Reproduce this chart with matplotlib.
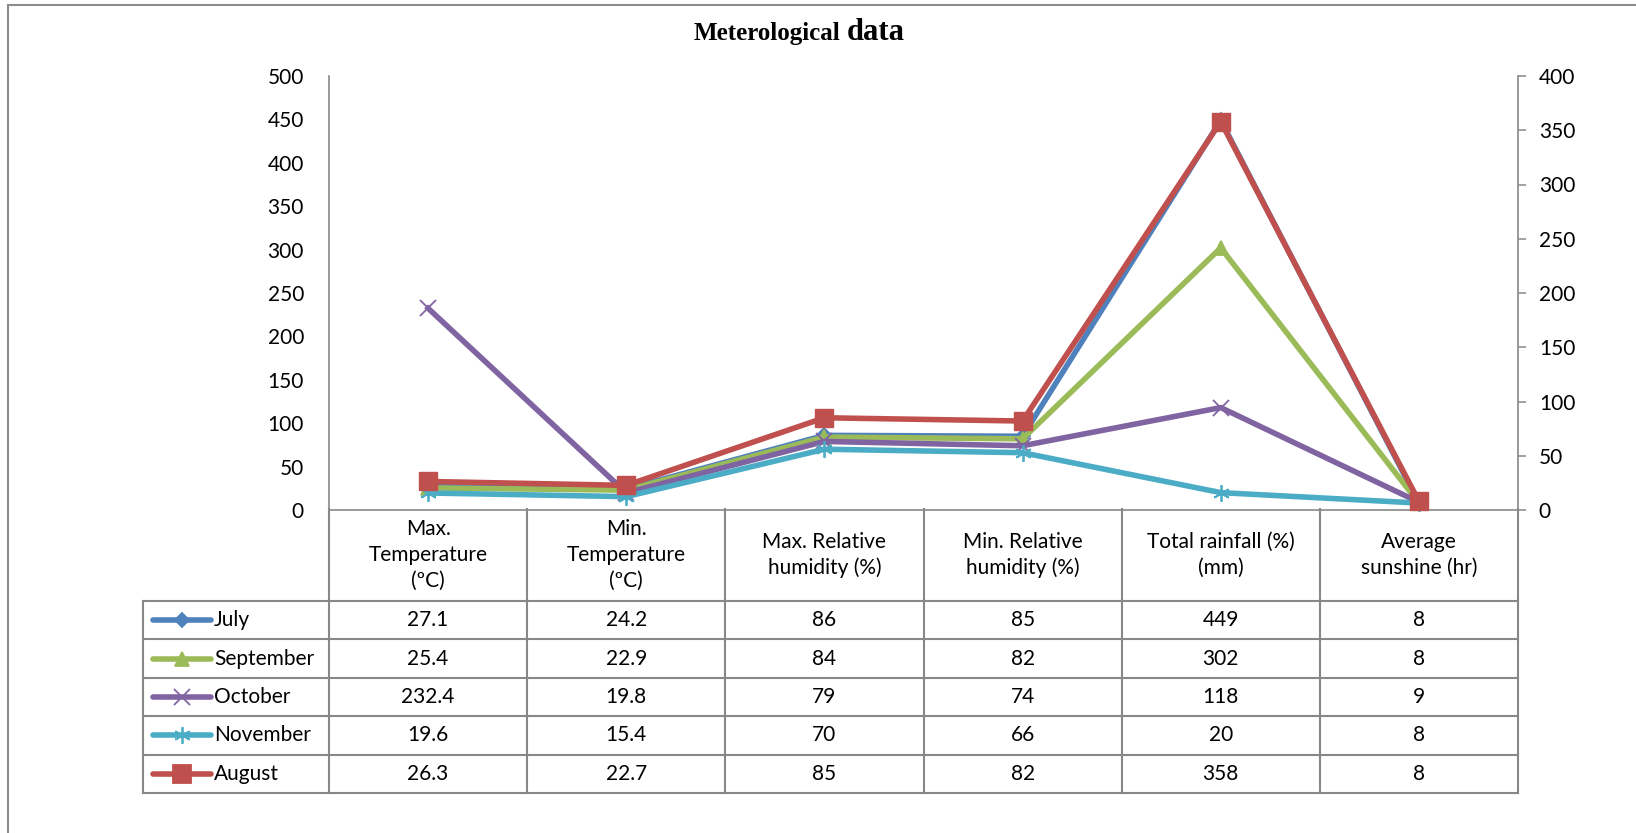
import numpy as np
import matplotlib
matplotlib.use("Agg")
import matplotlib.pyplot as plt
from matplotlib.lines import Line2D

plt.rcParams['font.family'] = ['Lato', 'DejaVu Sans']

# данные
categories = ["Max.\nTemperature\n(ºC)", "Min.\nTemperature\n(ºC)",
              "Max. Relative\nhumidity (%)", "Min. Relative\nhumidity (%)",
              "Total rainfall (%)\n(mm)", "Average\nsunshine (hr)"]
months = ["July", "September", "October", "November", "August"]
july = [27.1, 24.2, 86, 85, 449, 8]
september = [25.4, 22.9, 84, 82, 302, 8]
october = [232.4, 19.8, 79, 74, 118, 9]
november = [19.6, 15.4, 70, 66, 20, 8]
august = [26.3, 22.7, 85, 82, 358, 8]
left_ticks = np.arange(0, 501, 50)
right_ticks = np.arange(0, 401, 50)

series = [july, september, october, november, august]
colors = ["#4F81BD", "#9BBB59", "#8064A2", "#4BACC6", "#C0504D"]
markers = ["D", "^", "x", (6, 2, 0), "s"]
msizes = [7, 10, 12, 12, 13]
fs = 15

W, H = 1636, 833
def box(x0, y0, x1, y1):
    return [x0 / W, 1 - y1 / H, (x1 - x0) / W, (y1 - y0) / H]

fig = plt.figure(figsize=(16.36, 8.33), dpi=100)
grey = "#888888"

ax = fig.add_axes(box(329, 76, 1518, 510))
ax2 = ax.twinx()
x = np.arange(len(categories))

for i in range(4):
    ax.plot(x, series[i], color=colors[i], lw=4, marker=markers[i],
            ms=msizes[i], mew=1.3, clip_on=False, zorder=3)
ax2.plot(x, august, color=colors[4], lw=4, marker=markers[4],
         ms=msizes[4], clip_on=False, zorder=3)

ax.set_xlim(-0.5, len(categories) - 0.5)
ax.set_ylim(0, 500)
ax2.set_ylim(0, 400)
ax.set_yticks(left_ticks)
ax2.set_yticks(right_ticks)
ax.set_xticks([])
ax.tick_params(axis='y', length=0, pad=18, labelsize=fs)
ax2.tick_params(axis='y', length=6, width=1.1, color=grey, pad=9, labelsize=fs)
for a in (ax, ax2):
    a.spines['top'].set_visible(False)
    for s in a.spines.values():
        s.set_color(grey)
        s.set_linewidth(1.2)
ax.spines['right'].set_visible(False)
ax2.spines['left'].set_visible(False)
ax2.spines['bottom'].set_visible(False)

# заголовок
fig.text(840 / W, 1 - 40 / H, "Meterological", family="Liberation Serif",
         weight="bold", fontsize=18, ha="right", va="baseline")
fig.text(847 / W, 1 - 40 / H, "data", family="Liberation Serif",
         weight="bold", fontsize=22, ha="left", va="baseline")

# таблица данных
colw = (1518 - 329) / 6
xmin = -0.5 - (329 - 143) / colw
hdr = 92
rowh = 38.4
tab = fig.add_axes(box(143, 509, 1518, 793))
tab.set_xlim(xmin, len(categories) - 0.5)
tab.set_ylim(hdr + rowh * 5, 0)
tab.axis('off')

lk = dict(color=grey, lw=1.5, solid_capstyle='projecting', clip_on=False)
tab.plot([xmin, 5.5], [hdr, hdr], **lk)
for r in range(1, 6):
    tab.plot([xmin, 5.5], [hdr + r * rowh] * 2, **lk)
for k in range(7):
    tab.plot([k - 0.5] * 2, [0, hdr + 5 * rowh], **lk)
tab.plot([xmin] * 2, [hdr, hdr + 5 * rowh], **lk)

for i, c in enumerate(categories):
    tab.text(i, hdr / 2, c, ha="center", va="center", fontsize=fs,
             linespacing=1.35)

def px(p):
    return -0.5 + (p - 329) / colw

for r, (m, vals) in enumerate(zip(months, series)):
    yc = hdr + (r + 0.5) * rowh
    tab.plot([px(153), px(182), px(211)], [yc] * 3, color=colors[r], lw=4,
             marker=markers[r], ms=msizes[r], mew=1.3, markevery=[1],
             clip_on=False, solid_capstyle='round')
    tab.text(px(214), yc, m, ha="left", va="center", fontsize=fs)
    for i, v in enumerate(vals):
        tab.text(i, yc, f"{v:g}", ha="center", va="center", fontsize=fs)

# рамка
fig.add_artist(Line2D([8 / W, 8 / W], [0, 1 - 5 / H], transform=fig.transFigure,
                      color="#8c8c8c", lw=1.5))
fig.add_artist(Line2D([8 / W, 1], [1 - 5 / H, 1 - 5 / H], transform=fig.transFigure,
                      color="#8c8c8c", lw=1.5))

plt.savefig("out.png", dpi=100)
